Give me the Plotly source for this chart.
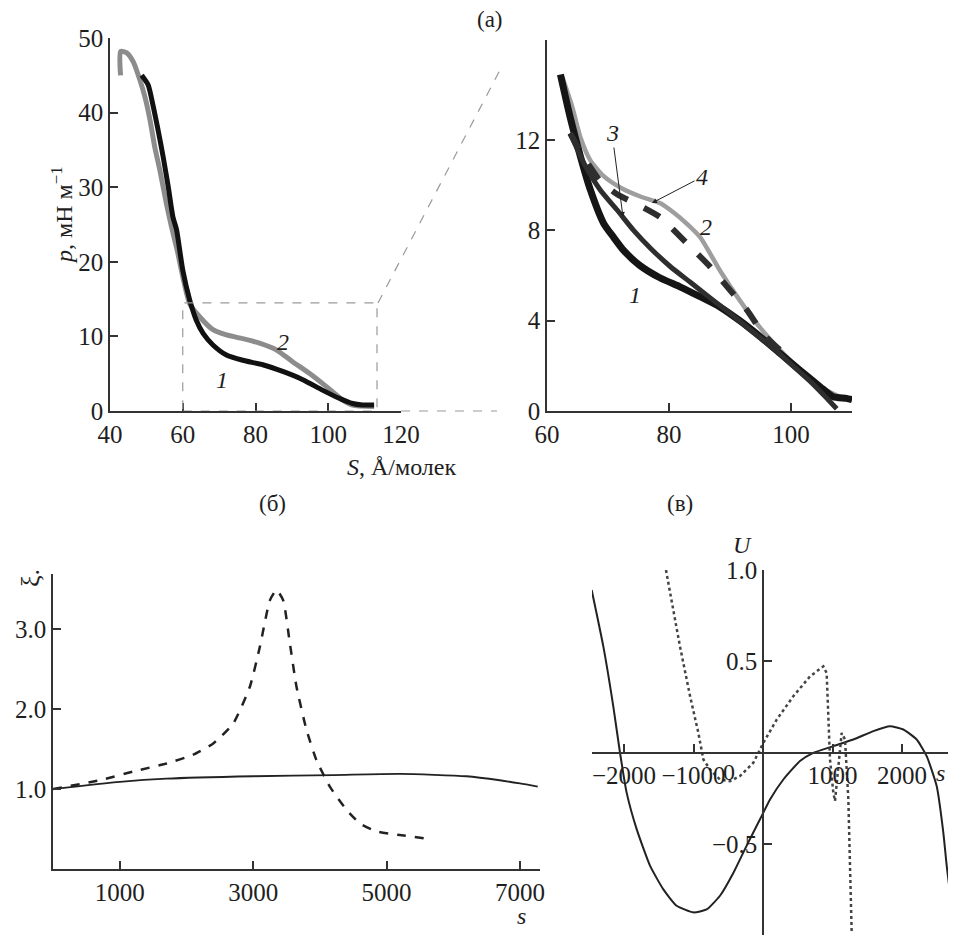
import plotly.graph_objects as go

# ---------------- data ----------------
# panel (a), left: full isotherms (S, Å/molecule ; p, mN/m)
S1_full = [48.7, 50.5, 51.9, 53.2, 54.6, 56.0, 57.3, 58.3, 60.0, 61.9, 63.7, 65.6, 68.3, 72.0, 76.5, 82.0, 87.5, 93.0, 98.4, 103.0, 106.7, 109.4, 112.6]
p1_full = [45.0, 43.7, 40.8, 37.7, 34.1, 30.1, 26.0, 24.3, 18.9, 14.9, 12.2, 10.4, 8.85, 7.5, 6.8, 6.2, 5.3, 4.2, 2.8, 1.7, 1.0, 0.8, 0.8]
S2_full = [42.9, 42.9, 44.6, 46.4, 48.2, 49.6, 51.0, 52.3, 53.7, 55.5, 56.9, 58.5, 60.1, 61.9, 64.7, 68.3, 72.0, 76.5, 81.1, 85.7, 90.2, 94.8, 99.4, 103.9, 106.7, 112.6]
p2_full = [45.0, 48.2, 48.0, 46.8, 44.4, 42.1, 39.0, 35.4, 32.3, 27.8, 24.7, 21.5, 17.8, 14.4, 12.6, 10.9, 10.2, 9.7, 9.1, 8.2, 6.6, 5.05, 3.3, 1.5, 0.8, 0.6]

# panel (a), right: zoomed region
S1_zoom = [62.2, 63.8, 65.5, 67.1, 69.3, 70.9, 72.6, 75.2, 78.5, 81.8, 85.1, 88.4, 91.6, 94.9, 98.2, 101.5, 104.8, 106.9, 109.1, 110.0]
p1_zoom = [14.9, 13.0, 11.25, 9.8, 8.3, 7.7, 7.1, 6.45, 5.9, 5.5, 5.06, 4.6, 4.0, 3.3, 2.55, 1.8, 1.07, 0.63, 0.56, 0.5]
S2_zoom = [62.5, 64.1, 65.5, 67.1, 69.3, 72.0, 75.3, 78.6, 80.7, 82.9, 85.1, 88.4, 91.6, 94.9, 98.2, 101.5, 104.8, 108.0, 110.0]
p2_zoom = [14.8, 13.5, 12.1, 11.1, 10.4, 9.9, 9.5, 9.2, 8.8, 8.3, 7.7, 6.2, 4.9, 3.7, 2.7, 1.8, 1.07, 0.63, 0.5]
S3 = [63.8, 66.0, 68.7, 71.5, 74.2, 77.0, 80.2, 83.5, 86.8, 90.1, 93.3, 96.6, 99.9, 103.2, 105.4, 107.5]
p3 = [12.3, 11.0, 9.8, 8.9, 8.0, 7.2, 6.4, 5.7, 5.0, 4.3, 3.6, 2.9, 2.1, 1.3, 0.7, 0.1]
S4 = [63.8, 66.0, 68.7, 71.5, 75.9, 78.5, 79.7, 83.4, 86.7, 90.0, 92.7, 95.5, 98.6]
p4 = [12.3, 11.25, 10.2, 9.6, 9.0, 8.6, 8.3, 7.3, 6.4, 5.35, 4.5, 3.4, 2.6]

# panel (б)
s_b_dash = [0, 704, 1204, 1703, 2102, 2402, 2702, 2951, 3101, 3251, 3351, 3451, 3551, 3650, 3800, 3950, 4150, 4400, 4600, 4849, 5198, 5598]
xi_dash = [1.0, 1.11, 1.22, 1.32, 1.43, 1.57, 1.82, 2.28, 2.78, 3.36, 3.49, 3.36, 2.82, 2.28, 1.74, 1.36, 1.03, 0.74, 0.57, 0.47, 0.425, 0.38]
s_b_solid = [0, 1004, 1703, 3001, 4200, 5198, 6197, 6697, 7000, 7266]
xi_solid = [1.0, 1.09, 1.13, 1.16, 1.175, 1.19, 1.16, 1.11, 1.07, 1.03]

# panel (в)
s_c_solid = [-2465, -2297, -2153, -2058, -1962, -1818, -1626, -1434, -1242, -1002, -811, -619, -427, -235, -43, 101, 293, 532, 724, 1012, 1300, 1588, 1827, 2019, 2211, 2355, 2499, 2595, 2643, 2715, 2763]
U_solid = [0.89, 0.58, 0.25, 0.0, -0.22, -0.42, -0.62, -0.75, -0.84, -0.876, -0.86, -0.785, -0.66, -0.51, -0.366, -0.257, -0.148, -0.047, -0.002, 0.035, 0.071, 0.117, 0.144, 0.126, 0.071, -0.02, -0.184, -0.44, -0.62, -0.84, -0.967]
s_c_dot = [-1396, -1290, -1194, -1050, -930, -858, -763, -619, -475, -331, -139, 5, 197, 436, 676, 868, 916, 964, 1012, 1036, 1084, 1132, 1180, 1228, 1252, 1276]
U_dot = [1.0, 0.78, 0.58, 0.31, 0.107, -0.038, -0.093, -0.148, -0.157, -0.129, -0.056, 0.053, 0.18, 0.308, 0.417, 0.472, 0.435, -0.038, -0.22, -0.266, -0.075, 0.107, 0.071, -0.257, -0.62, -0.985]

# ---------------- layout helpers ----------------
W, H, OFF = 940, 927, 8
def fx(px):
    return min(1.0, max(0.0, (px - OFF) / W))
def fy(py):
    return min(1.0, max(0.0, 1 - (py - OFF) / H))

FONT = "Liberation Serif, Times New Roman, serif"
AX = '#333333'
TXT = '#1e1e1e'

fig = go.Figure()

# panel (a) left
fig.add_trace(go.Scatter(x=S2_full, y=p2_full, xaxis='x', yaxis='y', mode='lines',
                         line=dict(color='#8c8c8c', width=5, shape='spline', smoothing=0.6)))
fig.add_trace(go.Scatter(x=S1_full, y=p1_full, xaxis='x', yaxis='y', mode='lines',
                         line=dict(color='#111111', width=5, shape='spline', smoothing=0.6)))
# panel (a) right
fig.add_trace(go.Scatter(x=S2_zoom, y=p2_zoom, xaxis='x2', yaxis='y2', mode='lines',
                         line=dict(color='#9e9e9e', width=4.5, shape='spline', smoothing=0.6)))
fig.add_trace(go.Scatter(x=S1_zoom, y=p1_zoom, xaxis='x2', yaxis='y2', mode='lines',
                         line=dict(color='#151515', width=7, shape='spline', smoothing=0.6)))
fig.add_trace(go.Scatter(x=S3, y=p3, xaxis='x2', yaxis='y2', mode='lines',
                         line=dict(color='#2e2e2e', width=5, shape='spline', smoothing=0.6)))
fig.add_trace(go.Scatter(x=S4, y=p4, xaxis='x2', yaxis='y2', mode='lines',
                         line=dict(color='#2e2e2e', width=6, dash='dash', shape='spline', smoothing=0.6)))
# panel (б)
fig.add_trace(go.Scatter(x=s_b_solid, y=xi_solid, xaxis='x3', yaxis='y3', mode='lines',
                         line=dict(color='#222222', width=1.8, shape='spline', smoothing=0.6)))
fig.add_trace(go.Scatter(x=s_b_dash, y=xi_dash, xaxis='x3', yaxis='y3', mode='lines',
                         line=dict(color='#222222', width=2.5, dash='dash', shape='spline', smoothing=0.5)))
# panel (в)
fig.add_trace(go.Scatter(x=s_c_solid, y=U_solid, xaxis='x4', yaxis='y4', mode='lines',
                         line=dict(color='#222222', width=2, shape='spline', smoothing=0.5)))
fig.add_trace(go.Scatter(x=s_c_dot, y=U_dot, xaxis='x4', yaxis='y4', mode='lines',
                         line=dict(color='#444444', width=2.5, dash='dot')))

common = dict(showline=True, linecolor=AX, linewidth=1.5, ticks='inside', ticklen=8,
              tickcolor=AX, tickwidth=1.5, showgrid=False, zeroline=False,
              automargin=False,
              tickfont=dict(family=FONT, size=25, color=TXT))

# panel (в) x range follows its pixel span (0 at px 763, 69.5 px per 1000)
x4_lo = (592 - 763) / 0.0695
x4_hi = (min(956, OFF + W) - 763) / 0.0695

fig.update_layout(
    template='none',
    width=W, height=H, margin=dict(l=0, r=0, t=0, b=0, autoexpand=False),
    paper_bgcolor='white', plot_bgcolor='rgba(0,0,0,0)', showlegend=False,
    font=dict(family=FONT, size=24, color=TXT),
    xaxis=dict(domain=[fx(110), fx(401)], range=[40, 120], anchor='y',
               tickvals=[40, 60, 80, 100, 120], **common),
    yaxis=dict(domain=[fy(411), fy(38)], range=[0, 50], anchor='x',
               tickvals=[0, 10, 20, 30, 40, 50], **common),
    xaxis2=dict(domain=[fx(547), fx(852)], range=[60, 110], anchor='y2',
                tickvals=[60, 80, 100], **common),
    yaxis2=dict(domain=[fy(411), fy(40)], range=[0, 16.43], anchor='x2',
                tickvals=[0, 4, 8, 12], **common),
    xaxis3=dict(domain=[fx(53), fx(540)], range=[0, 7300], anchor='y3',
                tickvals=[1000, 3000, 5000, 7000], **common),
    yaxis3=dict(domain=[fy(869), fy(574)], range=[0, 3.69], anchor='x3',
                tickvals=[1, 2, 3], ticktext=['1.0', '2.0', '3.0'], **common),
    xaxis4=dict(domain=[fx(592), fx(956)], range=[x4_lo, x4_hi], anchor='free',
                position=fy(753), tickvals=[-2000, -1000, 1000, 2000],
                ticktext=['\u22122000', '\u22121000', '1000', '2000'], **common),
    yaxis4=dict(domain=[fy(936), fy(570)], range=[-1, 1], anchor='free',
                position=fx(763), tickvals=[-1, -0.5, 0.5, 1],
                ticktext=['\u22121.0', '\u22120.5', '0.5', '1.0'], **common),
)

# zoom box and connector lines (panel a)
dash_line = dict(color='#9a9a9a', width=1.2, dash='dash')
fig.add_shape(type='rect', xref='x', yref='y', x0=60, x1=113.4, y0=0, y1=14.5,
              line=dash_line)
fig.add_shape(type='line', xref='paper', yref='paper', x0=fx(378), y0=fy(303),
              x1=fx(500), y1=fy(70), line=dash_line)
fig.add_shape(type='line', xref='paper', yref='paper', x0=fx(401), y0=fy(411),
              x1=fx(497), y1=fy(411), line=dash_line)

def txt(px, py, text, size=24, angle=0, italic=False):
    if italic:
        text = '<i>' + text + '</i>'
    fig.add_annotation(x=fx(px), y=fy(py), xref='paper', yref='paper', text=text,
                       showarrow=False, textangle=angle,
                       font=dict(family=FONT, size=size, color=TXT),
                       xanchor='center', yanchor='middle')

txt(490, 19, '(a)', size=23)
txt(272, 503, '(б)', size=23)
txt(680, 503, '(в)', size=23)
txt(62, 215, '<i>p</i>, мН м<sup>\u22121</sup>', angle=-90)
txt(402, 467, '<i>S</i>, Å/молек')
txt(222, 380, '1', italic=True)
txt(283, 342, '2', italic=True)
txt(635, 295, '1', italic=True)
txt(706, 227, '2', italic=True)
txt(521, 916, 's', italic=True)
txt(940, 773, 's', italic=True)
txt(742, 545, 'U', italic=True)
txt(30, 578, 'ξ.', size=26, angle=-90)
txt(729, 772, '0', size=24)

# numbered arrows
fig.add_annotation(x=fx(623), y=fy(217), xref='paper', yref='paper', text='<i>3</i>',
                   showarrow=True, arrowhead=2, arrowsize=1, arrowwidth=1, arrowcolor='#222',
                   ax=-11, ay=-84, font=dict(family=FONT, size=24, color=TXT))
fig.add_annotation(x=fx(652), y=fy(203), xref='paper', yref='paper', text='<i>4</i>',
                   showarrow=True, arrowhead=2, arrowsize=1, arrowwidth=1, arrowcolor='#222',
                   ax=50, ay=-26, font=dict(family=FONT, size=24, color=TXT))

fig.write_html("out.html")
